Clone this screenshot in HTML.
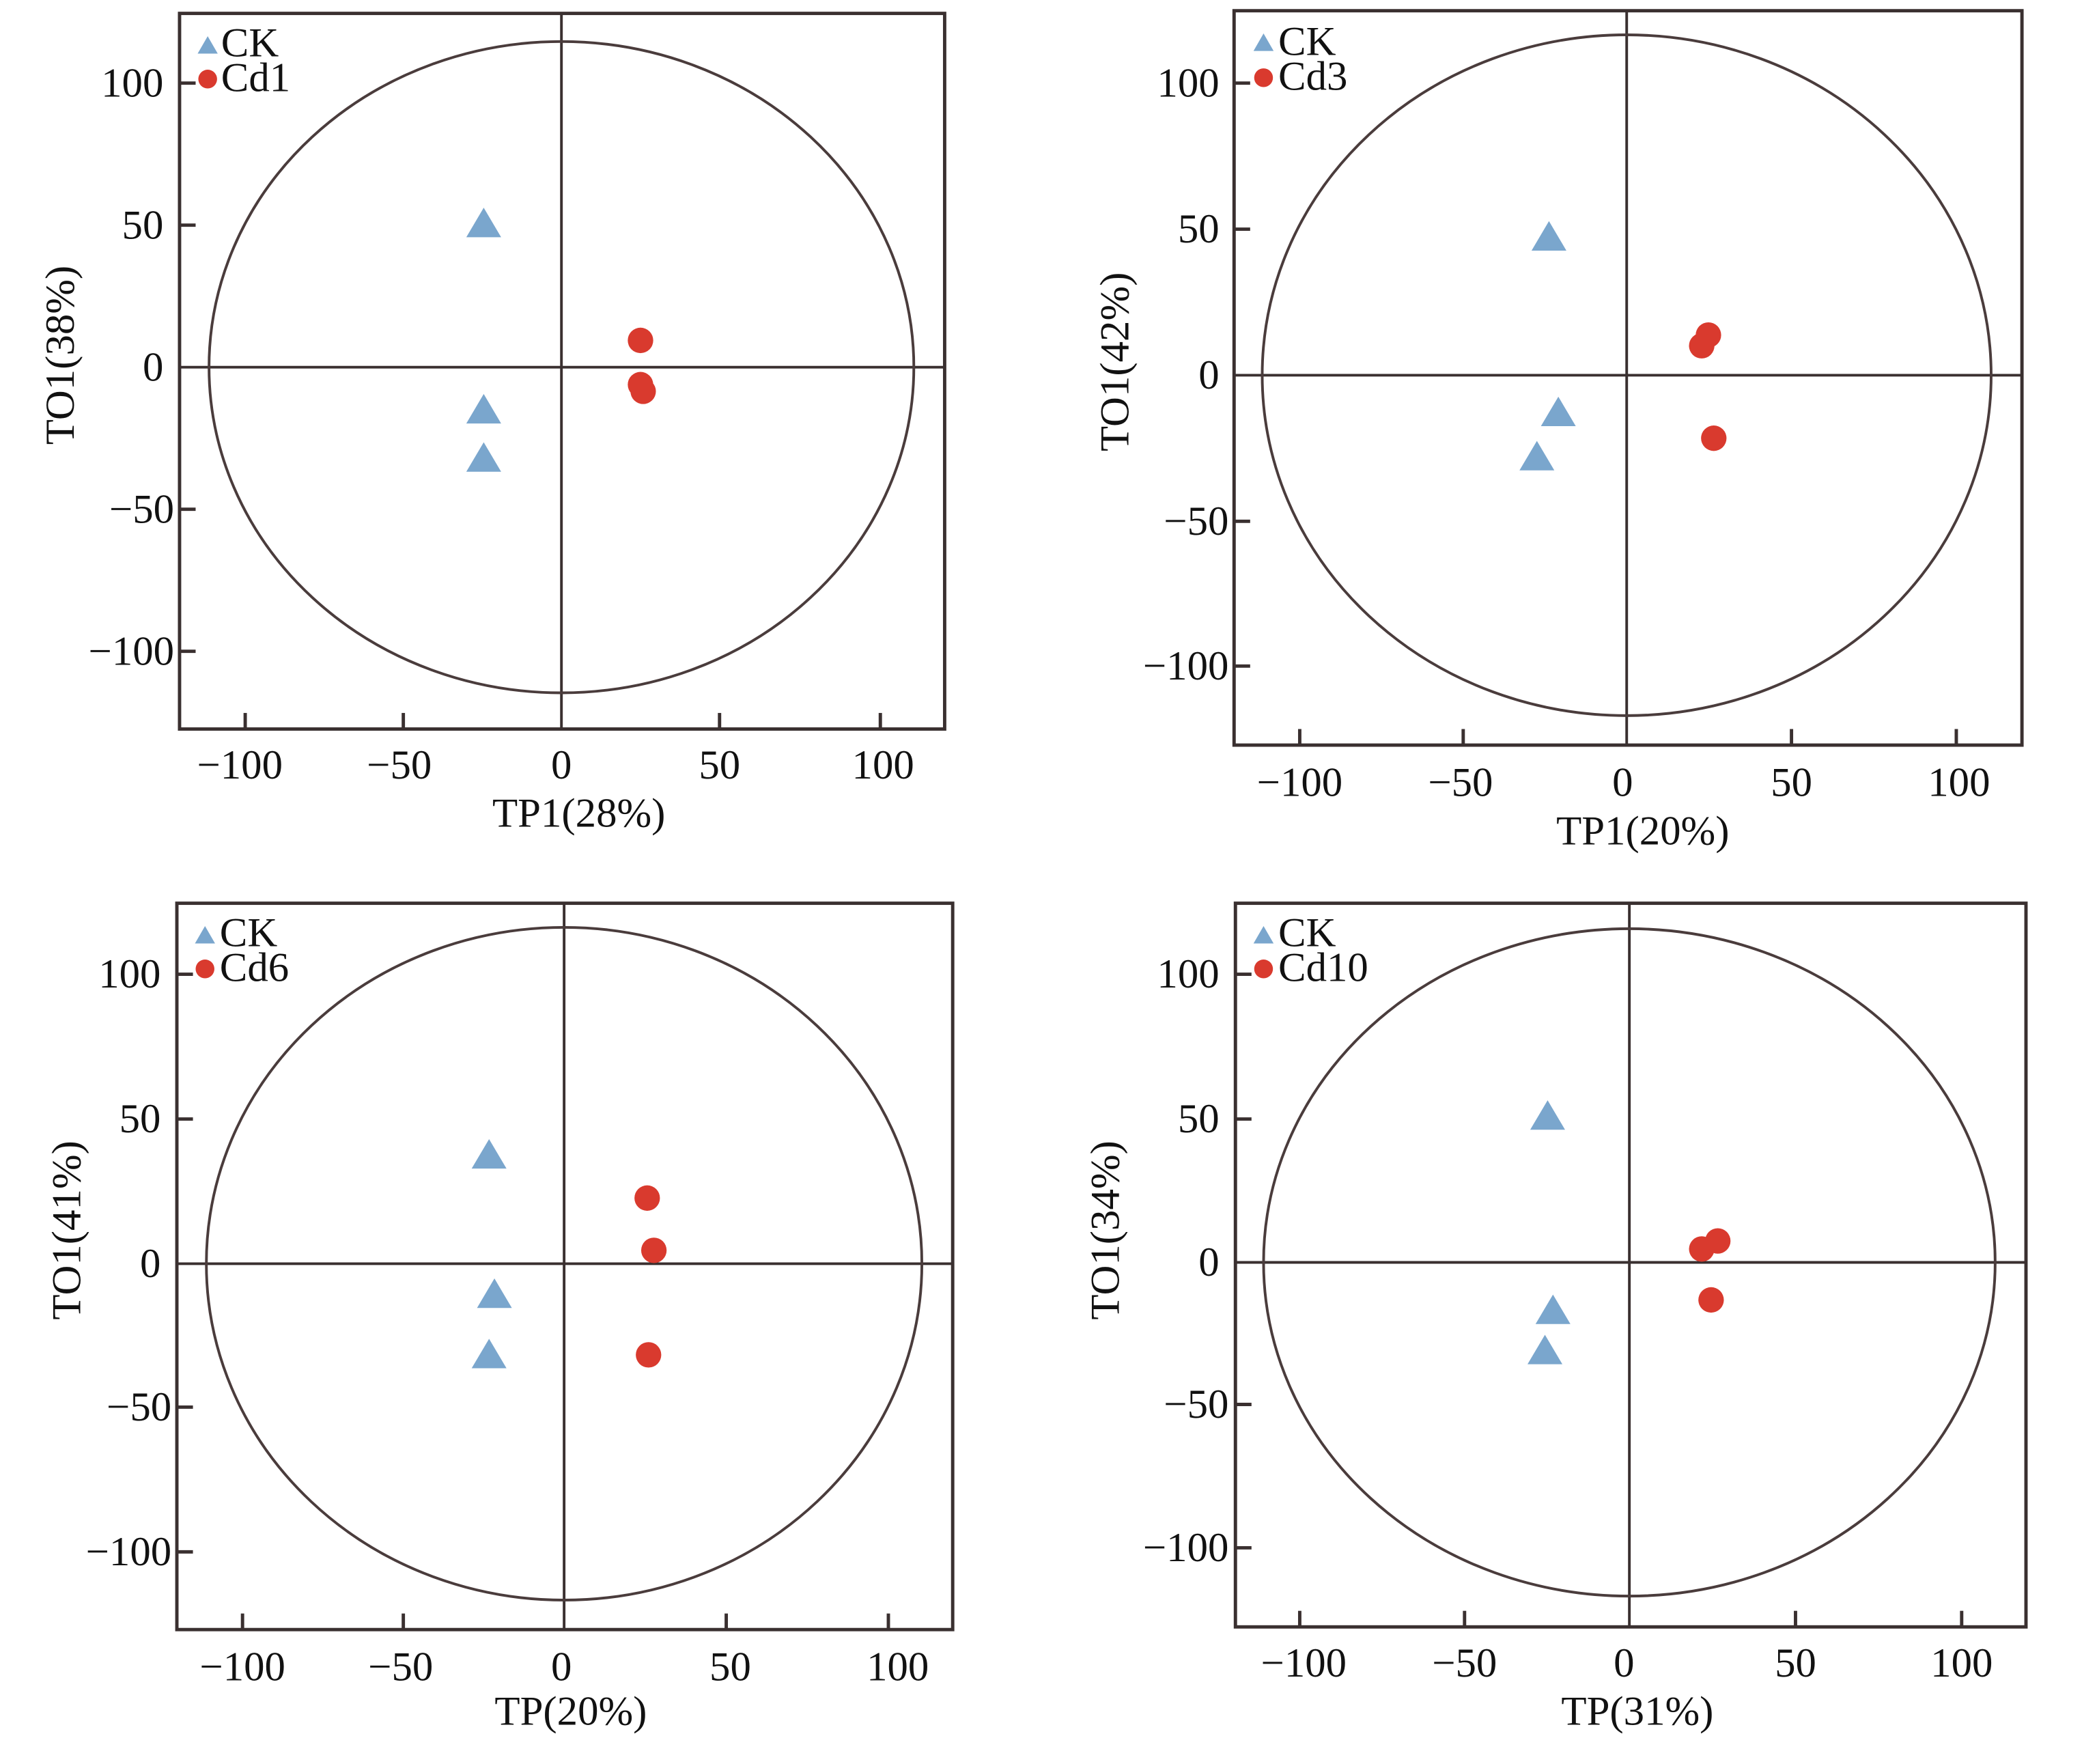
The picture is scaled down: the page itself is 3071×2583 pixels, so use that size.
<!DOCTYPE html>
<html><head><meta charset="utf-8"><style>html,body{margin:0;padding:0;background:#fff}svg{display:block}</style></head>
<body>
<svg width="3071" height="2583" viewBox="0 0 1565 1316.3" preserveAspectRatio="none" xmlns="http://www.w3.org/2000/svg" font-family="Liberation Serif, serif" font-size="31" fill="#111">
<defs>
<g id="tri"><polygon points="0,-12 13,10 -13,10" fill="#7aa6cd"/></g>
<g id="dot"><circle r="9.5" fill="#d93a2e"/></g>
<g id="ltri"><polygon points="0,-7 7.5,6 -7.5,6" fill="#7aa6cd"/></g>
<g id="ldot"><circle r="7" fill="#d93a2e"/></g>
</defs>

<!-- Panel 1 -->
<g>
<rect x="134" y="10" width="571" height="534" fill="none" stroke="#3a3030" stroke-width="2.5"/>
<line x1="419" y1="10" x2="419" y2="544" stroke="#3a3030" stroke-width="2"/>
<line x1="134" y1="274" x2="705" y2="274" stroke="#3a3030" stroke-width="2"/>
<ellipse cx="419" cy="274" rx="263" ry="243" fill="none" stroke="#4a3c3c" stroke-width="2"/>
<g stroke="#3a3030" stroke-width="2.5">
<line x1="134" y1="62" x2="146" y2="62"/><line x1="134" y1="168" x2="146" y2="168"/><line x1="134" y1="380" x2="146" y2="380"/><line x1="134" y1="486" x2="146" y2="486"/>
<line x1="183" y1="544" x2="183" y2="532"/><line x1="301" y1="544" x2="301" y2="532"/><line x1="537" y1="544" x2="537" y2="532"/><line x1="657" y1="544" x2="657" y2="532"/>
</g>
<g text-anchor="end"><text x="122" y="72">100</text><text x="122" y="178">50</text><text x="122" y="284">0</text><text x="130" y="390">−50</text><text x="130" y="496">−100</text></g>
<g text-anchor="middle"><text x="179" y="581">−100</text><text x="298" y="581">−50</text><text x="419" y="581">0</text><text x="537" y="581">50</text><text x="659" y="581">100</text>
<text x="432" y="617">TP1(28%)</text>
<text transform="translate(55,265) rotate(-90)">TO1(38%)</text></g>
<use href="#ltri" x="155" y="34"/><text x="165" y="42">CK</text>
<use href="#ldot" x="155" y="59"/><text x="165" y="68">Cd1</text>
<use href="#tri" x="361" y="167"/><use href="#tri" x="361" y="306"/><use href="#tri" x="361" y="342"/>
<use href="#dot" x="478" y="254"/><use href="#dot" x="478" y="287"/><use href="#dot" x="480" y="292"/>
</g>

<!-- Panel 2 -->
<g>
<rect x="921" y="8" width="588" height="548" fill="none" stroke="#3a3030" stroke-width="2.5"/>
<line x1="1214" y1="8" x2="1214" y2="556" stroke="#3a3030" stroke-width="2"/>
<line x1="921" y1="280" x2="1509" y2="280" stroke="#3a3030" stroke-width="2"/>
<ellipse cx="1214" cy="280" rx="272" ry="254" fill="none" stroke="#4a3c3c" stroke-width="2"/>
<g stroke="#3a3030" stroke-width="2.5">
<line x1="921" y1="62" x2="933" y2="62"/><line x1="921" y1="171" x2="933" y2="171"/><line x1="921" y1="389" x2="933" y2="389"/><line x1="921" y1="497" x2="933" y2="497"/>
<line x1="970" y1="556" x2="970" y2="544"/><line x1="1092" y1="556" x2="1092" y2="544"/><line x1="1337" y1="556" x2="1337" y2="544"/><line x1="1460" y1="556" x2="1460" y2="544"/>
</g>
<g text-anchor="end"><text x="910" y="72">100</text><text x="910" y="181">50</text><text x="910" y="290">0</text><text x="917" y="399">−50</text><text x="917" y="507">−100</text></g>
<g text-anchor="middle"><text x="970" y="594">−100</text><text x="1090" y="594">−50</text><text x="1211" y="594">0</text><text x="1337" y="594">50</text><text x="1462" y="594">100</text>
<text x="1226" y="630">TP1(20%)</text>
<text transform="translate(842,270) rotate(-90)">TO1(42%)</text></g>
<use href="#ltri" x="943" y="32"/><text x="954" y="41">CK</text>
<use href="#ldot" x="943" y="58"/><text x="954" y="67">Cd3</text>
<use href="#tri" x="1156" y="177"/><use href="#tri" x="1163" y="308"/><use href="#tri" x="1147" y="341"/>
<use href="#dot" x="1275" y="250"/><use href="#dot" x="1270" y="258"/><use href="#dot" x="1279" y="327"/>
</g>

<!-- Panel 3 -->
<g>
<rect x="132" y="674" width="579" height="542" fill="none" stroke="#3a3030" stroke-width="2.5"/>
<line x1="421" y1="674" x2="421" y2="1216" stroke="#3a3030" stroke-width="2"/>
<line x1="132" y1="943" x2="711" y2="943" stroke="#3a3030" stroke-width="2"/>
<ellipse cx="421" cy="943" rx="267" ry="251" fill="none" stroke="#4a3c3c" stroke-width="2"/>
<g stroke="#3a3030" stroke-width="2.5">
<line x1="132" y1="727" x2="144" y2="727"/><line x1="132" y1="835" x2="144" y2="835"/><line x1="132" y1="1050" x2="144" y2="1050"/><line x1="132" y1="1158" x2="144" y2="1158"/>
<line x1="181" y1="1216" x2="181" y2="1204"/><line x1="301" y1="1216" x2="301" y2="1204"/><line x1="542" y1="1216" x2="542" y2="1204"/><line x1="663" y1="1216" x2="663" y2="1204"/>
</g>
<g text-anchor="end"><text x="120" y="737">100</text><text x="120" y="845">50</text><text x="120" y="953">0</text><text x="128" y="1060">−50</text><text x="128" y="1168">−100</text></g>
<g text-anchor="middle"><text x="181" y="1254">−100</text><text x="299" y="1254">−50</text><text x="419" y="1254">0</text><text x="545" y="1254">50</text><text x="670" y="1254">100</text>
<text x="426" y="1287">TP(20%)</text>
<text transform="translate(60,918) rotate(-90)">TO1(41%)</text></g>
<use href="#ltri" x="153" y="698"/><text x="164" y="706">CK</text>
<use href="#ldot" x="153" y="723"/><text x="164" y="732">Cd6</text>
<use href="#tri" x="365" y="862"/><use href="#tri" x="369" y="966"/><use href="#tri" x="365" y="1011"/>
<use href="#dot" x="483" y="894"/><use href="#dot" x="488" y="933"/><use href="#dot" x="484" y="1011"/>
</g>

<!-- Panel 4 -->
<g>
<rect x="922" y="674" width="590" height="540" fill="none" stroke="#3a3030" stroke-width="2.5"/>
<line x1="1216" y1="674" x2="1216" y2="1214" stroke="#3a3030" stroke-width="2"/>
<line x1="922" y1="942" x2="1512" y2="942" stroke="#3a3030" stroke-width="2"/>
<ellipse cx="1216" cy="942" rx="273" ry="249" fill="none" stroke="#4a3c3c" stroke-width="2"/>
<g stroke="#3a3030" stroke-width="2.5">
<line x1="922" y1="727" x2="934" y2="727"/><line x1="922" y1="835" x2="934" y2="835"/><line x1="922" y1="1048" x2="934" y2="1048"/><line x1="922" y1="1155" x2="934" y2="1155"/>
<line x1="970" y1="1214" x2="970" y2="1202"/><line x1="1093" y1="1214" x2="1093" y2="1202"/><line x1="1340" y1="1214" x2="1340" y2="1202"/><line x1="1464" y1="1214" x2="1464" y2="1202"/>
</g>
<g text-anchor="end"><text x="910" y="737">100</text><text x="910" y="845">50</text><text x="910" y="952">0</text><text x="917" y="1058">−50</text><text x="917" y="1165">−100</text></g>
<g text-anchor="middle"><text x="973" y="1251">−100</text><text x="1093" y="1251">−50</text><text x="1212" y="1251">0</text><text x="1340" y="1251">50</text><text x="1464" y="1251">100</text>
<text x="1222" y="1287">TP(31%)</text>
<text transform="translate(835,918) rotate(-90)">TO1(34%)</text></g>
<use href="#ltri" x="943" y="698"/><text x="954" y="706">CK</text>
<use href="#ldot" x="943" y="723"/><text x="954" y="732">Cd10</text>
<use href="#tri" x="1155" y="833"/><use href="#tri" x="1159" y="978"/><use href="#tri" x="1153" y="1008"/>
<use href="#dot" x="1270" y="932"/><use href="#dot" x="1282" y="926"/><use href="#dot" x="1277" y="970"/>
</g>
</svg>
</body></html>
